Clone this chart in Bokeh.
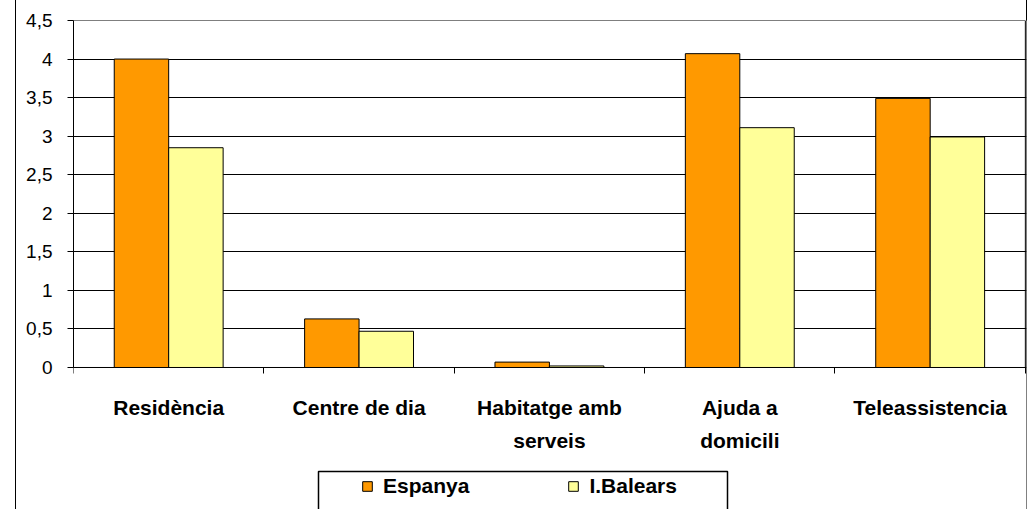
from bokeh.plotting import figure
from bokeh.models import (Range1d, FixedTicker, CustomJSTickFormatter,
                          ColumnDataSource, LabelSet, BoxAnnotation)
from bokeh.core.properties import value
from bokeh.transform import dodge
from bokeh.embed import file_html
from bokeh.resources import INLINE

# ---- data ----
categories = ["Residència", "Centre de dia", "Habitatge amb serveis", "Ajuda a domicili", "Teleassistencia"]
label_line1 = ["Residència", "Centre de dia", "Habitatge amb", "Ajuda a", "Teleassistencia"]
label_line2 = ["", "", "serveis", "domicili", ""]
espanya = [4.00, 0.63, 0.07, 4.07, 3.49]
balears = [2.85, 0.47, 0.02, 3.11, 2.99]
series_names = ["Espanya", "I.Balears"]
y_ticks = [0, 0.5, 1, 1.5, 2, 2.5, 3, 3.5, 4, 4.5]
y_tick_labels = ["0", "0,5", "1", "1,5", "2", "2,5", "3", "3,5", "4", "4,5"]

FONT = "Liberation Sans"
ORANGE = "#FF9900"
YELLOW = "#FFFF99"

n = len(categories)
y_max = y_ticks[-1]
centers = [i + 0.5 for i in range(n)]  # category slot centres on a 0..n axis
src = ColumnDataSource(dict(x=centers, cat=categories, esp=espanya, bal=balears))

# frame spans down to the canvas bottom so that labels and legend below y=0 are not clipped
p = figure(width=1030, height=509, x_range=Range1d(0, n + 0.006), y_range=Range1d(-1.8415, y_max),
           output_backend="svg", toolbar_location=None)
p.min_border = 0
p.min_border_left = 73
p.min_border_right = 4
p.min_border_top = 20
p.min_border_bottom = 0
p.outline_line_color = None
p.background_fill_color = "white"
p.border_fill_alpha = 0
p.styles = {
    "background": "linear-gradient(to right, transparent 15px, #000 15px, #000 16px, transparent 16px), "
                  "linear-gradient(to right, transparent 1026px, #000 1026px, #000 1027px, transparent 1027px), "
                  "#ffffff"
}

p.ygrid.ticker = FixedTicker(ticks=y_ticks)
p.ygrid.grid_line_color = "black"
p.ygrid.grid_line_width = 1
p.xgrid.grid_line_color = None

# plot-area border
p.add_layout(BoxAnnotation(left=0, right=n, bottom=0, top=y_max, fill_alpha=0,
                           line_color="black", line_alpha=1, line_width=1, level="underlay"))

bw = 0.286
p.vbar(x=dodge("x", -bw / 2), top="esp", width=bw, source=src,
       fill_color=ORANGE, line_color="black", line_width=1, legend_label=series_names[0])
p.vbar(x=dodge("x", bw / 2), top="bal", width=bw, source=src,
       fill_color=YELLOW, line_color="black", line_width=1, legend_label=series_names[1])

# y axis
ya = p.yaxis[0]
ya.ticker = FixedTicker(ticks=y_ticks)
ya.bounds = (0, y_max)
ya.formatter = CustomJSTickFormatter(args=dict(yvals=y_ticks, ylabs=y_tick_labels), code="""
const i = yvals.findIndex(t => Math.abs(t - tick) < 1e-9);
return i >= 0 ? ylabs[i] : '';
""")
ya.axis_line_color = "black"
ya.major_tick_line_color = "black"
ya.major_tick_out = 6
ya.major_tick_in = 0
ya.minor_tick_line_color = None
ya.major_label_standoff = 15
ya.major_label_text_font = FONT
ya.major_label_text_font_size = "19px"
ya.major_label_text_color = "black"

# x axis at y=0: ticks at category boundaries, no labels
xa = p.xaxis[0]
xa.fixed_location = 0
xa.bounds = (0, n)
xa.ticker = FixedTicker(ticks=list(range(n + 1)))
xa.formatter = CustomJSTickFormatter(code="return '';")
xa.axis_line_color = "black"
xa.major_tick_line_color = "black"
xa.major_tick_out = 6
xa.major_tick_in = 0
xa.minor_tick_line_color = None
xa.major_label_standoff = 0
xa.major_label_text_font_size = "1px"

# category labels (two lines)
lx, ly, lt = [], [], []
for c, l1, l2 in zip(centers, label_line1, label_line2):
    lx.append(c); ly.append(-0.519); lt.append(l1)
    if l2:
        lx.append(c); ly.append(-0.947); lt.append(l2)
p.add_layout(LabelSet(x="x", y="y", text="t", source=ColumnDataSource(dict(x=lx, y=ly, t=lt)),
                      text_align="center", text_baseline="middle", text_font=value(FONT),
                      text_font_size="21px", text_font_style="bold", text_color="black"))

# legend (box drawn separately, bottom edge runs off the canvas as in the reference)
p.add_layout(BoxAnnotation(left=318, right=727, top=471, bottom=540,
                           left_units="canvas", right_units="canvas",
                           top_units="canvas", bottom_units="canvas",
                           fill_alpha=0, line_color="black", line_alpha=1, line_width=1.5))
lg = p.legend[0]
lg.orientation = "horizontal"
lg.location = (288, 11)
lg.padding = 0
lg.margin = 0
lg.spacing = 98
lg.glyph_width = 12
lg.glyph_height = 12
lg.label_standoff = 10
lg.label_text_font = FONT
lg.label_text_font_size = "21px"
lg.label_text_font_style = "bold"
lg.label_text_color = "black"
lg.border_line_alpha = 0
lg.background_fill_alpha = 0

open("out.html", "w").write(file_html(p, INLINE))
